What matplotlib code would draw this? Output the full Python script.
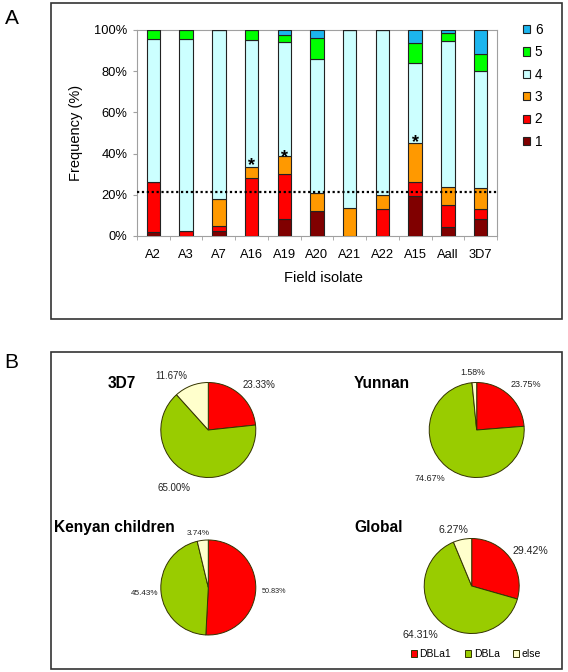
import numpy as np
import matplotlib
matplotlib.use("Agg")
import matplotlib.pyplot as plt
from matplotlib.patches import Rectangle

plt.rcParams['font.family'] = ['Liberation Sans', 'DejaVu Sans']

# %% data - panel A (stacked frequencies, %)
isolates = ['A2', 'A3', 'A7', 'A16', 'A19', 'A20', 'A21', 'A22', 'A15', 'Aall', '3D7']
c1 = [2.0, 0, 2.5, 0, 8.4, 12.3, 0, 0, 19.2, 4.5, 8.33]
c2 = [24.0, 2.5, 2.5, 28.2, 21.8, 0, 0, 13.1, 6.8, 10.7, 5.0]
c3 = [0, 0, 12.9, 5.2, 8.8, 8.5, 13.5, 7.0, 19.2, 8.55, 10.0]
c4 = [69.5, 93.0, 82.1, 61.7, 55.3, 64.9, 86.5, 79.9, 38.8, 70.9, 56.67]
c5 = [4.5, 4.5, 0, 4.9, 3.1, 10.6, 0, 0, 9.5, 3.77, 8.33]
c6 = [0, 0, 0, 0, 2.6, 3.7, 0, 0, 6.5, 1.58, 11.67]
series = [c1, c2, c3, c4, c5, c6]
series_names = ['1', '2', '3', '4', '5', '6']
threshold = 21.3
star_isolates = ['A16', 'A19', 'A15']
star_y = [37.0, 40.7, 48.3]

# %% data - panel B (pies)
pie_titles = ['3D7', 'Yunnan', 'Kenyan children', 'Global']
pie_cats = ['DBLa1', 'DBLa', 'else']
pie_3d7 = [23.33, 65.00, 11.67]
pie_yunnan = [23.75, 74.67, 1.58]
pie_kenya = [50.83, 45.43, 3.74]
pie_global = [29.42, 64.31, 6.27]

W, H = 568, 672
fig = plt.figure(figsize=(W / 100, H / 100), dpi=100)

def fx(px):
    return px / W

def fy(py):
    return 1 - py / H

# panel frames
for top, bot in [(3.3, 318.7), (352, 669)]:
    fig.patches.append(Rectangle((fx(51), fy(bot)), fx(562) - fx(51), fy(top) - fy(bot),
                                 transform=fig.transFigure, fill=False,
                                 edgecolor='#333333', lw=1.2))
fig.text(fx(12), fy(18), 'A', fontsize=15, ha='center', va='center')
fig.text(fx(11), fy(363), 'B', fontsize=15, ha='center', va='center')

# %% panel A
ax = fig.add_axes([fx(137), fy(236), fx(497) - fx(137), fy(30) - fy(236)])
colors = ['#800000', '#FF0000', '#FF9900', '#CCFFFF', '#00FF00', '#1CB5EE']
x = np.arange(len(isolates))
bottom = np.zeros(len(isolates))
bars = []
for vals, col, name in zip(series, colors, series_names):
    b = ax.bar(x, vals, 0.41, bottom=bottom, color=col, edgecolor='#222222',
               linewidth=0.8, label=name, zorder=3)
    bars.append(b)
    bottom += np.array(vals)

ax.axhline(threshold, color='black', lw=1.6, dashes=(1, 1.2), zorder=4)
for iso, sy in zip(star_isolates, star_y):
    ax.annotate('*', (isolates.index(iso), sy), xytext=(0, -7.5),
                textcoords='offset points', ha='center', va='baseline',
                fontsize=13, fontweight='bold', zorder=5)

ax.set_xlim(-0.5, len(isolates) - 0.5)
ax.set_ylim(0, 100)
ax.set_yticks(np.arange(0, 101, 20))
ax.set_yticklabels([f'{v}%' for v in range(0, 101, 20)], fontsize=9.3)
ax.set_xticks(x)
ax.set_xticklabels(isolates, fontsize=9.3)
ax.set_xticks(np.arange(-0.5, len(isolates), 1), minor=True)
ax.tick_params(axis='x', which='major', length=0, pad=9)
ax.tick_params(axis='x', which='minor', length=3, color='#A0A0A0')
ax.tick_params(axis='y', length=3, color='#A0A0A0', pad=4)
for s in ax.spines.values():
    s.set_color('#A0A0A0')
    s.set_linewidth(0.8)
ax.set_xlabel('Field isolate', fontsize=10.5)
ax.xaxis.set_label_coords(0.517, -0.205)
ax.xaxis.label.set_va('center')
ax.set_ylabel('Frequency (%)', fontsize=10.5)
ax.yaxis.set_label_coords(-0.17, 0.5)
ax.yaxis.label.set_va('center')

fig.legend(bars[::-1], series_names[::-1], loc='upper left',
           bbox_to_anchor=(fx(522.5), fy(23)), frameon=False, fontsize=9.8,
           handlelength=0.55, handleheight=0.55, handletextpad=0.35,
           labelspacing=0.615, borderpad=0, borderaxespad=0)

# %% panel B
pie_colors = ['#FF0000', '#99CC00', '#FFFFCC']
pies = [pie_3d7, pie_yunnan, pie_kenya, pie_global]
centers = [(208.3, 430), (476.7, 430), (208.3, 587.5), (471.7, 586)]
title_pos = [(121.7, 383), (381.7, 383.3), (114, 527.3), (378.3, 527.3)]
label_dist = [[1.43, 1.42, 1.38], [1.41, 1.42, 1.22], [1.38, 1.34, 1.16], [1.43, 1.49, 1.25]]
label_shift = [[-6, -10, 13], [-4, -4, 1], [-2, 0, 4], [-6, -5, 7]]
label_size = [[7, 7, 6.9], [6.5, 6.5, 6.3], [5.2, 5.9, 5.9], [7.6, 7.6, 7.6]]
r = 47.5
wedges = None
for vals, (cx, cy), title, tpos, dists, shifts, sizes in zip(
        pies, centers, pie_titles, title_pos, label_dist, label_shift, label_size):
    pax = fig.add_axes([fx(cx - r), fy(cy + r), 2 * r / W, 2 * r / H])
    wedges, _ = pax.pie(vals, colors=pie_colors, startangle=90, counterclock=False,
                        wedgeprops=dict(edgecolor='#333300', linewidth=0.7))
    pax.set_xlim(-1, 1)
    pax.set_ylim(-1, 1)
    pax.set_aspect('auto')
    pax.axis('off')
    for w, v, d, sh, fs in zip(wedges, vals, dists, shifts, sizes):
        ang = np.deg2rad((w.theta1 + w.theta2) / 2 + sh)
        pax.text(d * np.cos(ang), d * np.sin(ang), f'{v:.2f}%', ha='center',
                 va='center', fontsize=fs, color='#222222', clip_on=False)
    fig.text(fx(tpos[0]), fy(tpos[1]), title, fontsize=11.2, fontweight='bold',
             ha='center', va='center')

fig.legend(wedges, pie_cats, loc='center', bbox_to_anchor=(fx(476), fy(654)),
           ncol=3, frameon=False, fontsize=7.5, handlelength=0.6, handleheight=0.6,
           handletextpad=0.25, columnspacing=1.3, borderpad=0, borderaxespad=0)

fig.savefig('out.png', dpi=100)
